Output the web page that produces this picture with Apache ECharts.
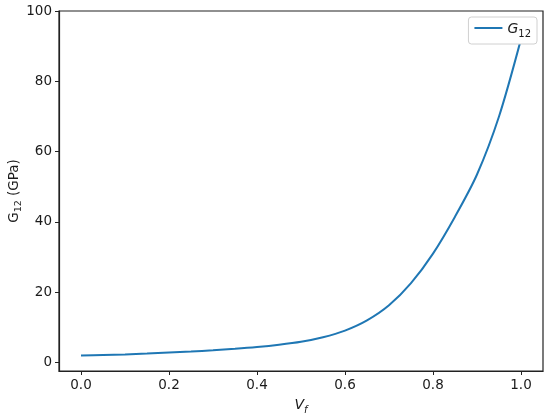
<!DOCTYPE html>
<html>
<head>
<meta charset="utf-8">
<script src="https://cdn.jsdelivr.net/npm/echarts@6/dist/echarts.min.js"></script>
<style>
html,body{margin:0;padding:0;background:#fff;}
#c{width:550px;height:417px;}
</style>
</head>
<body>
<div id="c"></div>
<script>
// Data
var vf = [0.0, 0.05, 0.1, 0.15, 0.2, 0.25, 0.3, 0.35, 0.4, 0.45, 0.5, 0.55, 0.6, 0.65, 0.7, 0.75, 0.8, 0.85, 0.9, 0.95, 1.0];
var g12 = [2.0, 2.15, 2.3, 2.55, 2.85, 3.15, 3.5, 3.9, 4.4, 5.05, 5.9, 7.2, 9.1, 12.0, 16.3, 22.6, 31.0, 41.5, 53.5, 70.0, 92.0];
var xTicks = [0.0, 0.2, 0.4, 0.6, 0.8, 1.0];
var yTicks = [0, 20, 40, 60, 80, 100];

var chart = echarts.init(document.getElementById('c'), null, {renderer: 'canvas'});
var font = 'DejaVu Sans';
var txt = '#1a1a1a';
var data = vf.map(function (v, i) { return [v, g12[i]]; });

chart.setOption({
  animation: false,
  backgroundColor: '#fff',
  grid: {left: 59, right: 7, top: 11, bottom: 46, containLabel: false, outerBoundsMode: 'none',
    show: true, borderColor: '#222', borderWidth: 1.2, backgroundColor: 'transparent'},
  legend: {
    right: 13, top: 17,
    padding: [5, 6, 5, 6],
    borderColor: '#d0d0d0', borderWidth: 1, borderRadius: 3,
    backgroundColor: '#fff',
    icon: 'rect', itemWidth: 28, itemHeight: 2, itemGap: 6,
    data: ['G12'],
    formatter: function () { return '{g|G}{s|12}'; },
    textStyle: {
      color: txt, fontFamily: font, fontSize: 13,
      rich: {
        g: {fontFamily: font, fontStyle: 'italic', fontSize: 14, color: txt, lineHeight: 16, verticalAlign: 'bottom'},
        s: {fontFamily: font, fontSize: 10, color: txt, lineHeight: 16, verticalAlign: 'bottom', padding: [0, 0, -3, 0]}
      }
    }
  },
  xAxis: {
    type: 'value', min: -0.05, max: 1.05,
    splitLine: {show: false},
    axisLine: {show: true, onZero: false, lineStyle: {color: '#222', width: 1.2}},
    axisTick: {show: true, customValues: xTicks, length: 4, lineStyle: {color: '#222'}},
    axisLabel: {customValues: xTicks, color: txt, fontFamily: font, fontSize: 13.5, margin: 7,
      formatter: function (v) { return v.toFixed(1); }},
    name: '{v|V}{f|f}', nameLocation: 'middle', nameGap: 25,
    nameTextStyle: {
      rich: {
        v: {fontFamily: font, fontStyle: 'italic', fontSize: 14, color: txt, lineHeight: 16, verticalAlign: 'bottom'},
        f: {fontFamily: font, fontStyle: 'italic', fontSize: 10, color: txt, lineHeight: 16, verticalAlign: 'bottom', padding: [0, 0, -3, 0]}
      }
    }
  },
  yAxis: {
    type: 'value', min: -2.4, max: 100,
    splitLine: {show: false},
    axisLine: {show: true, onZero: false, lineStyle: {color: '#222', width: 1.2}},
    axisTick: {show: true, customValues: yTicks, length: 4, lineStyle: {color: '#222'}},
    axisLabel: {customValues: yTicks, color: txt, fontFamily: font, fontSize: 13.5, margin: 7},
    name: '{g|G}{s|12}{g| (GPa)}', nameLocation: 'middle', nameGap: 38, nameRotate: 90,
    nameMoveOverlap: false,
    nameTextStyle: {
      rich: {
        g: {fontFamily: font, fontSize: 13.5, color: txt, lineHeight: 16, verticalAlign: 'bottom'},
        s: {fontFamily: font, fontSize: 9.5, color: txt, lineHeight: 16, verticalAlign: 'bottom', padding: [0, 0, -3, 0]}
      }
    }
  },
  series: [{
    name: 'G12', type: 'line', data: data, smooth: 0.3,
    showSymbol: false, symbol: 'none',
    lineStyle: {color: '#1f77b4', width: 2},
    itemStyle: {color: '#1f77b4'},
    z: 1
  }]
});
</script>
</body>
</html>
